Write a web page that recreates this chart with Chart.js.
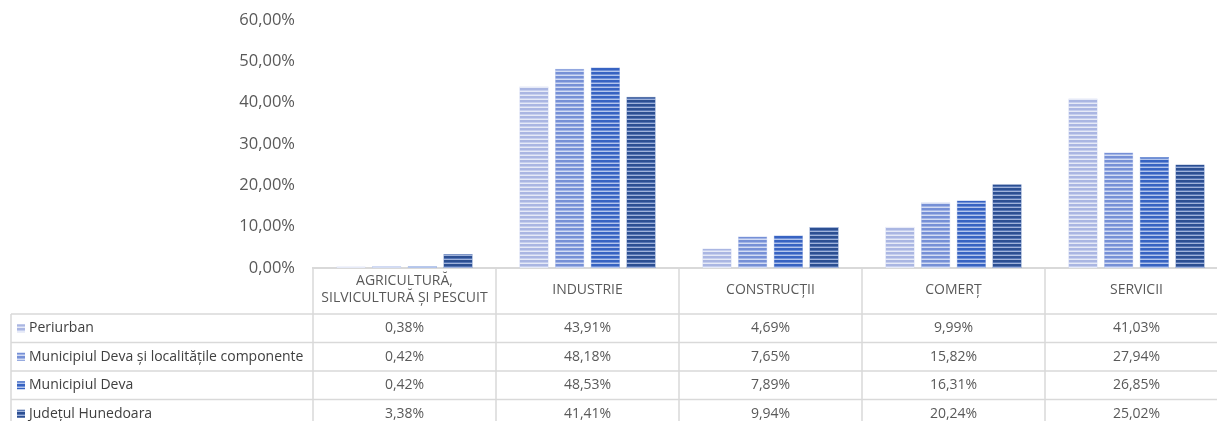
<!DOCTYPE html>
<html>
<head>
<meta charset="utf-8">
<script src="https://cdn.jsdelivr.net/npm/chart.js@4.4.1/dist/chart.umd.min.js"></script>
<style>
  html, body { margin: 0; padding: 0; background: #fff; overflow: hidden; }
  #wrap { width: 1230px; height: 430px; }
</style>
</head>
<body>
<div id="wrap"><canvas id="sectorChart" width="1230" height="430"></canvas></div>
<script>
const categories = ['AGRICULTURĂ, SILVICULTURĂ ȘI PESCUIT', 'INDUSTRIE', 'CONSTRUCȚII', 'COMERȚ', 'SERVICII'];
const headerLines = [['AGRICULTURĂ,', 'SILVICULTURĂ ȘI PESCUIT'], ['INDUSTRIE'], ['CONSTRUCȚII'], ['COMERȚ'], ['SERVICII']];
const seriesNames = ['Periurban', 'Municipiul Deva și localitățile componente', 'Municipiul Deva', 'Județul Hunedoara'];

const periurban = [0.38, 43.91, 4.69, 9.99, 41.03];
const devaLocalitati = [0.42, 48.18, 7.65, 15.82, 27.94];
const deva = [0.42, 48.53, 7.89, 16.31, 26.85];
const hunedoara = [3.38, 41.41, 9.94, 20.24, 25.02];

const yTicks = [0, 10, 20, 30, 40, 50, 60];

// stripe colours per series: dark, mid, light
const stripes = [
    ['#aab6e2', '#c6cfee', '#e6eaf7'],
    ['#7690d6', '#a3b5e6', '#d3dcf3'],
    ['#3763c2', '#6f8fd6', '#b3c5ec'],
    ['#2c4f92', '#5575b4', '#9fb2da']
];

function stripePattern(cols) {
    const c = document.createElement('canvas');
    c.width = 4; c.height = 4;
    const g = c.getContext('2d');
    g.fillStyle = cols[0]; g.fillRect(0, 0, 4, 2);
    g.fillStyle = cols[1]; g.fillRect(0, 2, 4, 1);
    g.fillStyle = cols[2]; g.fillRect(0, 3, 4, 1);
    return g.createPattern(c, 'repeat');
}

const fmt = v => v.toFixed(2).replace('.', ',') + '%';

const FONT = "'Open Sans', sans-serif";
const GRID = '#d9d9d9';

// data table under the plot, aligned with the category axis
const dataTable = {
    id: 'dataTable',
    afterDraw(chart) {
        const ctx = chart.ctx;
        const x = chart.scales.x;
        const half = (x.getPixelForValue(1) - x.getPixelForValue(0)) / 2;
        const top = chart.chartArea.bottom;
        const headerH = 46;
        const rowH = 28.5;
        const legendLeft = 11;
        const right = chart.width;
        const bottom = top + headerH + rowH * seriesNames.length;

        ctx.save();
        ctx.strokeStyle = GRID;
        ctx.lineWidth = 1.5;
        ctx.beginPath();
        // header bottom + row lines
        for (let r = 0; r <= seriesNames.length; r++) {
            const y = top + headerH + r * rowH;
            ctx.moveTo(legendLeft, y); ctx.lineTo(right, y);
        }
        // legend column left edge
        ctx.moveTo(legendLeft, top + headerH); ctx.lineTo(legendLeft, bottom);
        // category column edges
        for (let i = 0; i <= categories.length; i++) {
            const xe = x.getPixelForValue(0) - half + i * half * 2;
            ctx.moveTo(xe, top); ctx.lineTo(xe, bottom);
        }
        ctx.stroke();

        ctx.fillStyle = '#595959';
        ctx.textAlign = 'center';
        ctx.textBaseline = 'middle';
        ctx.font = '14px ' + FONT;
        headerLines.forEach((lines, i) => {
            const cx = x.getPixelForValue(i);
            const cy = top + headerH / 2 - 1;
            lines.forEach((ln, k) => {
                ctx.fillText(ln, cx, cy + (k - (lines.length - 1) / 2) * 17);
            });
        });

        chart.data.datasets.forEach((ds, r) => {
            const cy = top + headerH + r * rowH + rowH / 2;
            ctx.fillStyle = ds.backgroundColor;
            ctx.fillRect(17, cy - 4, 8, 8);
            ctx.fillStyle = '#404040';
            ctx.textAlign = 'left';
            ctx.font = '14px ' + FONT;
            ctx.fillText(ds.label, 29, cy);
            ctx.fillStyle = '#595959';
            ctx.textAlign = 'center';
            ctx.font = '14px ' + FONT;
            ds.data.forEach((v, i) => ctx.fillText(fmt(v), x.getPixelForValue(i), cy));
        });
        ctx.restore();
    }
};

const seriesValues = [periurban, devaLocalitati, deva, hunedoara];

new Chart(document.getElementById('sectorChart'), {
    type: 'bar',
    data: {
        labels: categories,
        datasets: seriesNames.map((name, i) => ({
            label: name,
            data: seriesValues[i],
            backgroundColor: stripePattern(stripes[i]),
            borderColor: stripes[i][1],
            borderWidth: 0.5,
            categoryPercentage: 0.78,
            barPercentage: 0.82
        }))
    },
    options: {
        responsive: false,
        animation: false,
        layout: { padding: { top: 20, right: 2, left: 0, bottom: 0 } },
        plugins: { legend: { display: false }, tooltip: { enabled: false } },
        scales: {
            x: {
                grid: { display: false },
                border: { color: GRID, width: 2 },
                ticks: { display: false },
                afterFit: s => { s.height = 162; }
            },
            y: {
                min: 0,
                max: 60,
                afterBuildTicks: s => { s.ticks = yTicks.map(v => ({ value: v })); },
                grid: { display: false, drawTicks: false },
                border: { display: false },
                ticks: {
                    padding: 18,
                    color: '#595959',
                    font: { family: FONT, size: 16.5 },
                    callback: v => fmt(v)
                },
                afterFit: s => {
                    s.width = 313;
                    s.paddingTop = 0;
                    s.paddingBottom = 0;
                }
            }
        }
    },
    plugins: [dataTable]
});
</script>
</body>
</html>
